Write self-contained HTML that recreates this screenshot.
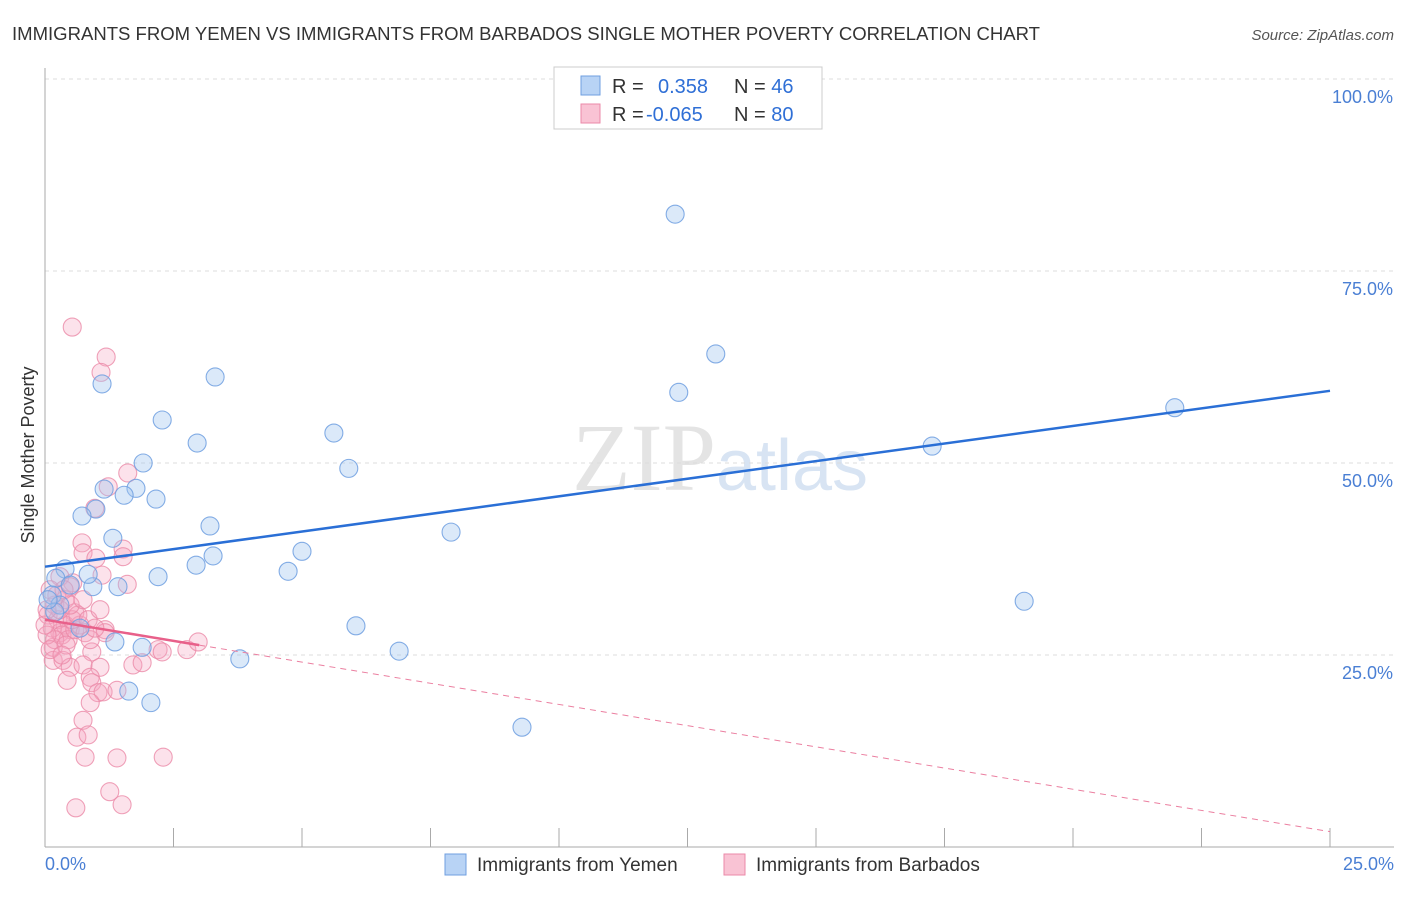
<!DOCTYPE html>
<html><head><meta charset="utf-8"><style>
body{margin:0;background:#fff;font-family:"Liberation Sans",sans-serif;}
</style></head><body>
<svg width="1406" height="892" xmlns="http://www.w3.org/2000/svg" id="svg">
<text x="12" y="40" font-size="18" fill="#333" textLength="1028" lengthAdjust="spacingAndGlyphs">IMMIGRANTS FROM YEMEN VS IMMIGRANTS FROM BARBADOS SINGLE MOTHER POVERTY CORRELATION CHART</text>
<text x="1394" y="40" font-size="15" fill="#555" font-style="italic" text-anchor="end">Source: ZipAtlas.com</text>
<text x="720" y="490" font-size="96" fill="#e4e4e4" text-anchor="middle" font-family="Liberation Serif,serif">ZIP<tspan fill="#d8e4f3" font-family="Liberation Sans,sans-serif" font-size="72">atlas</tspan></text>
<text transform="translate(34,455) rotate(-90)" font-size="18" fill="#333" text-anchor="middle">Single Mother Poverty</text>
<g id="grid"></g><g id="pts"></g><g id="lines"></g>
<g>
<rect x="554" y="67" width="268" height="62" fill="#fff" stroke="#ccc"/>
<rect x="581" y="76" width="19" height="19" fill="#b8d3f5" stroke="#6f9fe0"/>
<rect x="581" y="104" width="19" height="19" fill="#f9c3d4" stroke="#eb8aa8"/>
<text x="612" y="93" font-size="20" fill="#333">R = <tspan fill="#2f6fd6" x="658">0.358</tspan><tspan x="734" fill="#333">N = </tspan><tspan fill="#2f6fd6">46</tspan></text>
<text x="612" y="121" font-size="20" fill="#333">R = <tspan fill="#2f6fd6" x="646">-0.065</tspan><tspan x="734" fill="#333">N = </tspan><tspan fill="#2f6fd6">80</tspan></text>
</g>
<g>
<rect x="445" y="854" width="21" height="21" fill="#b8d3f5" stroke="#6f9fe0"/>
<text x="477" y="871" font-size="19" fill="#333">Immigrants from Yemen</text>
<rect x="724" y="854" width="21" height="21" fill="#f9c3d4" stroke="#eb8aa8"/>
<text x="756" y="871" font-size="19" fill="#333">Immigrants from Barbados</text>
</g>
</svg>
<script>
const yemenX=[12.26,13.05,12.33,21.98,17.26,19.05,9.28,7.90,6.89,6.05,5.91,5.62,5.0,4.73,3.79,3.31,3.21,3.27,2.94,2.96,2.28,2.16,1.91,1.77,1.54,1.15,0.99,0.72,1.32,1.11,2.2,1.42,0.93,0.84,1.89,1.36,1.63,2.06,0.68,0.39,0.21,0.14,0.29,0.49,0.19,0.06];
const yemenY=[82.4,64.2,59.2,57.2,52.2,32.0,15.6,41.0,25.5,28.8,49.3,53.9,38.5,35.9,24.5,61.2,41.8,37.9,36.7,52.6,55.6,45.3,50.0,46.7,45.8,46.6,44.0,43.1,40.2,60.3,35.2,33.9,33.9,35.5,26.0,26.7,20.3,18.8,28.5,36.2,35.0,32.8,31.5,34.1,30.6,32.2];
const barbX=[0.53,1.19,1.09,1.61,1.23,0.97,0.72,0.74,0.99,1.52,1.52,1.11,1.60,0.54,0.29,0.49,0.39,0.58,0.49,0.29,0.16,0.16,0.35,0.49,0.43,0.91,0.74,1.07,0.88,0.91,1.03,1.13,1.40,0.88,0.74,0.62,0.84,0.78,1.40,2.30,1.26,1.50,0.60,1.17,1.17,1.71,1.89,2.20,2.28,2.76,2.98,0.10,0.19,0.06,0.25,0.39,0.14,0.33,0.45,0.58,0.68,0.78,0.19,0.04,0.53,0.29,0.10,0.41,0.64,0.84,0.23,0.0,0.88,0.33,0.97,0.04,0.49,0.74,1.07,0.37];
const barbY=[67.7,63.8,61.8,48.7,46.9,44.1,39.6,38.3,37.6,38.8,37.8,35.4,34.2,34.4,35.2,33.9,32.2,30.5,28.3,27.9,26.0,24.3,24.3,23.4,21.7,25.4,23.7,23.4,22.1,21.4,20.1,20.2,20.4,18.8,16.5,14.3,14.6,11.7,11.6,11.7,7.2,5.5,5.1,28.3,27.9,23.7,24.0,25.7,25.4,25.7,26.7,33.5,31.5,30.2,29.6,28.9,28.5,27.6,27.0,28.3,28.9,27.9,27.0,27.6,29.6,30.9,25.7,26.3,30.2,29.6,32.8,28.9,27.0,25.0,28.5,30.9,31.5,32.2,30.9,33.5];
const yTicks=[25,50,75,100];
const yTickLabels=["25.0%","50.0%","75.0%","100.0%"];
const xTicks=[0,2.5,5,7.5,10,12.5,15,17.5,20,22.5,25];
const yemenTrend=[36.5,59.4];
const barbTrend=[29.6,2.0];
const barbSolidEnd=3.0;
const NS="http://www.w3.org/2000/svg";
const X=v=>45+v*51.4, Y=v=>847-v*7.68;
function mk(tag,at,parent){const e=document.createElementNS(NS,tag);for(const k in at)e.setAttribute(k,at[k]);document.getElementById(parent).appendChild(e);return e;}
yTicks.forEach((t,i)=>{
 const l=mk('line',{x1:45,x2:1394,y1:Y(t),y2:Y(t),stroke:'#ddd','stroke-dasharray':'4,4'},'grid');
 
 
 const tx=mk('text',{x:1393,y:Y(t)+24,'font-size':18,fill:'#4a7fd4','text-anchor':'end'},'grid');
 tx.textContent=yTickLabels[i];
 
 
});
const ax=mk('line',{x1:45,x2:45,y1:68,y2:847,stroke:'#aaa'},'grid');


const bx=mk('line',{x1:45,x2:1394,y1:847,y2:847,stroke:'#aaa'},'grid');


xTicks.forEach(t=>{
 const l=mk('line',{x1:X(t),x2:X(t),y1:828,y2:847,stroke:'#aaa'},'grid');
 
 
});
[[0,"0.0%",'start',45],[25,"25.0%",'end',1394]].forEach(a=>{
 const t=mk('text',{x:a[3],y:870,'font-size':18,fill:'#4a7fd4','text-anchor':a[2]},'grid');
 t.textContent=a[1];
 
 
});
barbX.forEach((v,i)=>{
 const c=mk('circle',{cx:X(v),cy:Y(barbY[i]),r:9,fill:'rgba(245,165,192,0.32)',stroke:'rgba(235,138,168,0.8)','stroke-width':1.1},'pts');
 
 
});
yemenX.forEach((v,i)=>{
 const c=mk('circle',{cx:X(v),cy:Y(yemenY[i]),r:9,fill:'rgba(160,196,240,0.38)',stroke:'rgba(111,159,224,0.85)','stroke-width':1.1},'pts');
 
 
});
const l1=mk('line',{x1:X(0),y1:Y(yemenTrend[0]),x2:X(25),y2:Y(yemenTrend[1]),stroke:'#2a6fd6','stroke-width':2.5},'lines');


const by=x=>barbTrend[0]+(barbTrend[1]-barbTrend[0])*x/25;
const l2=mk('line',{x1:X(barbSolidEnd),y1:Y(by(barbSolidEnd)),x2:X(25),y2:Y(barbTrend[1]),stroke:'#eb7fa0','stroke-width':1,'stroke-dasharray':'6,5'},'lines');


const l3=mk('line',{x1:X(0),y1:Y(barbTrend[0]),x2:X(barbSolidEnd),y2:Y(by(barbSolidEnd)),stroke:'#e8608a','stroke-width':2.5},'lines');


</script>
</body></html>
